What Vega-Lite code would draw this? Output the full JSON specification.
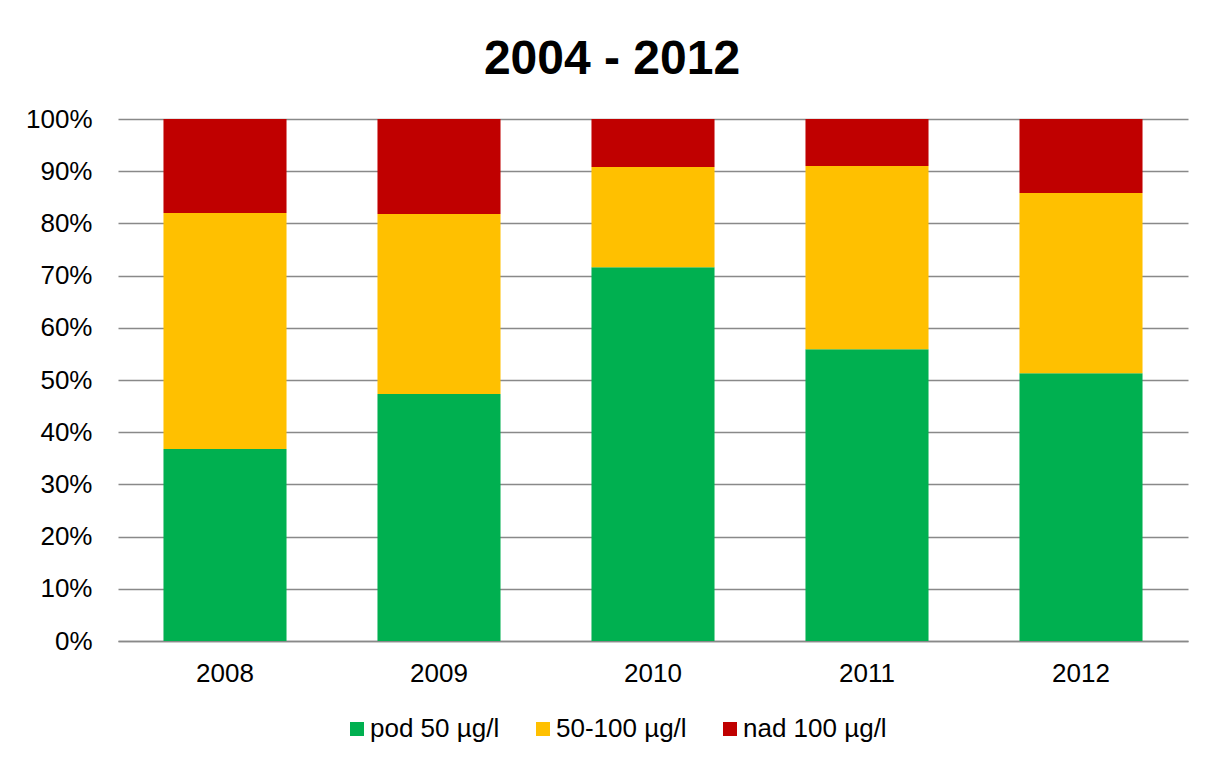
{
  "$schema": "https://vega.github.io/schema/vega-lite/v6.json",
  "autosize": {"type": "none"},
  "width": 1070,
  "height": 522,
  "padding": {"left": 118, "top": 119, "right": 18, "bottom": 120},
  "background": "white",
  "title": {
    "text": "2004 - 2012",
    "font": "Liberation Sans",
    "fontSize": 48,
    "fontWeight": "bold",
    "color": "#000000",
    "anchor": "middle",
    "offset": 22,
    "dx": -41
  },
  "data": {
    "values": [
      {"rok": "2008", "kategorie": "pod 50 µg/l", "poradi": 1, "podil": 36.8},
      {"rok": "2008", "kategorie": "50-100 µg/l", "poradi": 2, "podil": 45.2},
      {"rok": "2008", "kategorie": "nad 100 µg/l", "poradi": 3, "podil": 18.0},
      {"rok": "2009", "kategorie": "pod 50 µg/l", "poradi": 1, "podil": 47.3},
      {"rok": "2009", "kategorie": "50-100 µg/l", "poradi": 2, "podil": 34.5},
      {"rok": "2009", "kategorie": "nad 100 µg/l", "poradi": 3, "podil": 18.2},
      {"rok": "2010", "kategorie": "pod 50 µg/l", "poradi": 1, "podil": 71.6},
      {"rok": "2010", "kategorie": "50-100 µg/l", "poradi": 2, "podil": 19.2},
      {"rok": "2010", "kategorie": "nad 100 µg/l", "poradi": 3, "podil": 9.2},
      {"rok": "2011", "kategorie": "pod 50 µg/l", "poradi": 1, "podil": 55.9},
      {"rok": "2011", "kategorie": "50-100 µg/l", "poradi": 2, "podil": 35.1},
      {"rok": "2011", "kategorie": "nad 100 µg/l", "poradi": 3, "podil": 9.0},
      {"rok": "2012", "kategorie": "pod 50 µg/l", "poradi": 1, "podil": 51.3},
      {"rok": "2012", "kategorie": "50-100 µg/l", "poradi": 2, "podil": 34.5},
      {"rok": "2012", "kategorie": "nad 100 µg/l", "poradi": 3, "podil": 14.2}
    ]
  },
  "mark": {"type": "bar"},
  "encoding": {
    "x": {
      "field": "rok",
      "type": "nominal",
      "scale": {"paddingInner": 0.425, "paddingOuter": 0.2125},
      "axis": {
        "title": null,
        "labelAngle": 0,
        "labelFont": "Liberation Sans",
        "labelFontSize": 26,
        "labelColor": "#000000",
        "labelPadding": 19,
        "ticks": false,
        "domain": true,
        "domainColor": "#898989",
        "domainWidth": 1.5,
        "grid": false
      }
    },
    "y": {
      "field": "podil",
      "type": "quantitative",
      "stack": "normalize",
      "scale": {"domain": [0, 1], "nice": false},
      "axis": {
        "title": null,
        "format": ".0%",
        "values": [0, 0.1, 0.2, 0.3, 0.4, 0.5, 0.6, 0.7, 0.8, 0.9, 1],
        "labelFont": "Liberation Sans",
        "labelFontSize": 26,
        "labelColor": "#000000",
        "labelPadding": 26,
        "ticks": false,
        "domain": false,
        "grid": true,
        "gridColor": "#898989",
        "gridWidth": 1.5
      }
    },
    "color": {
      "field": "kategorie",
      "type": "nominal",
      "scale": {
        "domain": ["pod 50 µg/l", "50-100 µg/l", "nad 100 µg/l"],
        "range": ["#00B050", "#FFC000", "#C00000"]
      },
      "legend": {
        "title": null,
        "orient": "none",
        "direction": "horizontal",
        "legendX": 226,
        "legendY": 597,
        "padding": 0,
        "symbolType": "square",
        "symbolSize": 196,
        "symbolStrokeWidth": 0,
        "symbolOpacity": 1,
        "labelFont": "Liberation Sans",
        "labelFontSize": 26,
        "labelColor": "#000000",
        "labelOffset": 0,
        "columnPadding": 30
      }
    },
    "order": {"field": "poradi", "type": "quantitative", "sort": "ascending"}
  },
  "config": {
    "view": {"stroke": null}
  }
}
